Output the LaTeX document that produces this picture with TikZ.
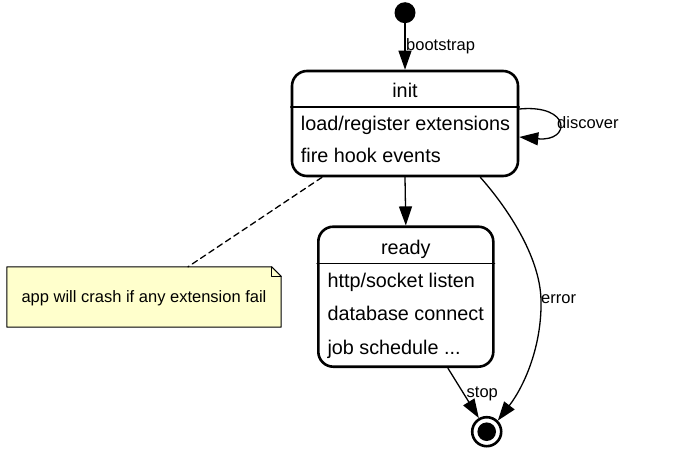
\documentclass[tikz,border=0pt]{standalone}
\usepackage{fontspec}
\setmainfont{Liberation Sans}
\usetikzlibrary{arrows.meta}
\begin{document}
\begin{tikzpicture}[x=1pt,y=-1pt,line cap=round,line join=round,
  statebox/.style={draw,line width=2.6pt,rounded corners=15pt,inner sep=0pt},
  statetext/.style={inner sep=0pt,yshift=-4pt,font=\fontsize{19.8}{23}\selectfont,text height=0.75em,text depth=0.2em},
  edgelabel/.style={inner sep=0pt,yshift=-3pt,font=\fontsize{16.5}{19}\selectfont,text height=0.75em,text depth=0.2em},
  trans/.style={line width=1.3pt,-{Triangle[length=19pt,width=13pt]}},
  notefill/.style={draw,line width=1pt,fill={rgb,255:red,255;green,255;blue,204}}]
  \useasboundingbox (0,0) rectangle (700,466);
  \node[circle,fill,inner sep=0pt,minimum size=21pt] (start) at (405,12.7) {};
  \node[statebox,minimum width=226pt,minimum height=105pt] (init) at (405,123.5) {};
  \draw[line width=1.3pt] (init.west |- 0,107) -- (init.east |- 0,107);
  \node[statetext] (inittitle) at (405,91) {init};
  \node[statetext,anchor=west] (initload) at (300.7,123.5) {load/register extensions};
  \node[statetext,anchor=west] (initfire) at (300.7,156) {fire hook events};
  \node[statebox,minimum width=175pt,minimum height=140pt] (ready) at (405.8,296.7) {};
  \draw[line width=1.3pt] (ready.west |- 0,263.3) -- (ready.east |- 0,263.3);
  \node[statetext] (readytitle) at (405.8,248) {ready};
  \node[statetext,anchor=west] (readyhttp) at (327.3,281) {http/socket listen};
  \node[statetext,anchor=west] (readydb) at (327.3,314) {database connect};
  \node[statetext,anchor=west] (readyjob) at (327.3,347.5) {job schedule ...};
  \node[circle,draw,line width=2.6pt,minimum size=29pt,inner sep=0pt] (final) at (486.7,431.7) {};
  \fill (final.center) circle[radius=9.3];
  \node[minimum width=274pt,minimum height=60pt,inner sep=0pt] (note) at (144,297) {};
  \draw[notefill] (note.south west) -- (note.north west) -- ([xshift=-9.5pt]note.north east)
   -- ([yshift=-9.5pt]note.north east) -- (note.south east) -- cycle;
  \draw[line width=1pt] ([xshift=-9.5pt]note.north east) |- ([yshift=-9.5pt]note.north east);
  \node[edgelabel] (notetext) at (note.center) {app will crash if any extension fail};
  \draw[trans] (start) -- (init);
  \node[edgelabel,anchor=west] (bootstrap) at (406,44.3) {bootstrap};
  \draw[trans] ([yshift=14.5pt]init.east) .. controls +(52,-5) and +(52,5) .. ([yshift=-13.5pt]init.east);
  \node[edgelabel,anchor=west] (discover) at (557,123) {discover};
  \draw[trans] (init.south) -- (ready.north);
  \draw[line width=1.3pt,dash pattern=on 6pt off 4pt] ([xshift=-83pt]init.south) -- ([xshift=44pt]note.north);
  \draw[trans] ([xshift=42pt]ready.south) -- (final.120);
  \node[edgelabel,anchor=west] (stop) at (466.5,391.7) {stop};
  \draw[trans] ([xshift=-39pt]init.south east) .. controls (505,205) and (540,255) .. (541,300)
   .. controls (542,345) and (525,385) .. (final.45);
  \node[edgelabel,anchor=west] (error) at (541,297.5) {error};
\end{tikzpicture}
\end{document}
